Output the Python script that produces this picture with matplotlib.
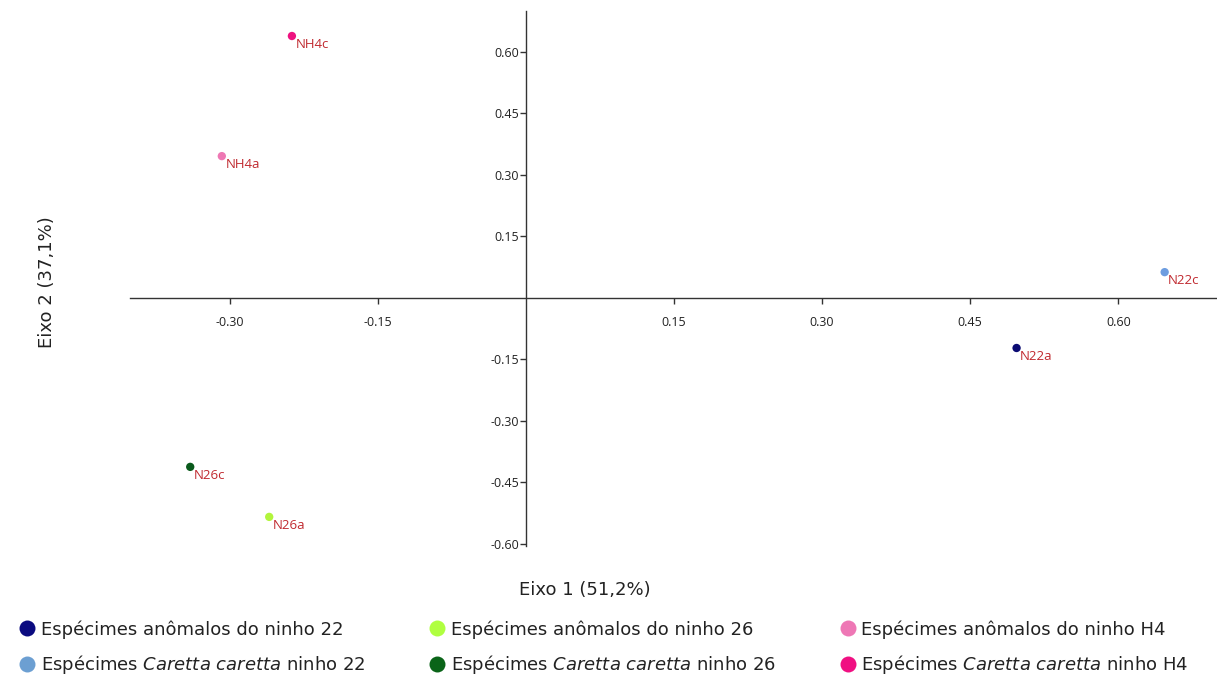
import matplotlib
matplotlib.use("Agg")
import matplotlib.pyplot as plt
from matplotlib.lines import Line2D

# PCA scores of each sample
samples = ['N22a', 'N22c', 'N26a', 'N26c', 'NH4a', 'NH4c']
eixo1 = [0.497, 0.647, -0.260, -0.340, -0.308, -0.237]
eixo2 = [-0.122, 0.063, -0.534, -0.412, 0.346, 0.639]
point_colors = ['#0b0b73', '#6d9de0', '#b2f53d', '#0a5a1c', '#ee78b4', '#ee1280']

legend_labels = [
    'Espécimes anômalos do ninho 22',
    r'Espécimes $\mathit{Caretta\ caretta}$ ninho 22',
    'Espécimes anômalos do ninho 26',
    r'Espécimes $\mathit{Caretta\ caretta}$ ninho 26',
    'Espécimes anômalos do ninho H4',
    r'Espécimes $\mathit{Caretta\ caretta}$ ninho H4',
]
legend_colors = ['#0b0b80', '#6c9fd2', '#b0ff40', '#0a6418', '#ee77b5', '#f01082']

xticks = [-0.30, -0.15, 0.15, 0.30, 0.45, 0.60]
yticks = [-0.60, -0.45, -0.30, -0.15, 0.15, 0.30, 0.45, 0.60]

plt.rcParams['mathtext.fontset'] = 'custom'
plt.rcParams['mathtext.it'] = 'DejaVu Sans:italic'
plt.rcParams['mathtext.rm'] = 'DejaVu Sans'

fig = plt.figure(figsize=(12.17, 6.77), dpi=100)
ax = fig.add_axes([130 / 1217, 131 / 677, 1086 / 1217, 535 / 677])

ax.scatter(eixo1, eixo2, s=36, c=point_colors, zorder=3, linewidths=0)
for name, x, y in zip(samples, eixo1, eixo2):
    ax.annotate(name, (x, y), xytext=(2.5, -6), textcoords='offset points',
                ha='left', va='center', color='#c0292f', fontsize=9.5,
                family='Open Sans', zorder=4)

ax.set_xlim(-0.401, 0.699)
ax.set_ylim(-0.605, 0.700)
for side in ['top', 'right']:
    ax.spines[side].set_visible(False)
ax.spines['left'].set_position(('data', 0))
ax.spines['bottom'].set_position(('data', 0))
for side in ['left', 'bottom']:
    ax.spines[side].set_linewidth(1.0)
    ax.spines[side].set_color('#333333')

ax.set_xticks(xticks)
ax.set_yticks(yticks)
ax.set_xticklabels([f'{v:.2f}' for v in xticks], family='Open Sans', fontsize=9)
ax.set_yticklabels([f'{v:.2f}' for v in yticks], family='Open Sans', fontsize=9)
ax.tick_params(axis='x', length=4, width=1, pad=9, color='#333333', labelcolor='#222222')
ax.tick_params(axis='y', length=4, width=1, pad=1, color='#333333', labelcolor='#222222')

fig.text(585 / 1217, 1 - 590 / 677, 'Eixo 1 (51,2%)', ha='center', va='center',
         family='DejaVu Sans', fontsize=13, color='#222222')
fig.text(47 / 1217, 1 - 282 / 677, 'Eixo 2 (37,1%)', ha='center', va='center',
         rotation=90, family='DejaVu Sans', fontsize=13, color='#222222')

handles = [Line2D([], [], linestyle='none', marker='o', markersize=11.5,
                  markerfacecolor=c, markeredgewidth=0) for c in legend_colors]
fig.legend(handles, legend_labels, ncol=3, loc='upper left',
           bbox_to_anchor=(10 / 1217, 1 - 611 / 677), frameon=False,
           prop={'family': 'DejaVu Sans', 'size': 13},
           handlelength=0.9, handletextpad=0.3, columnspacing=3.55,
           labelspacing=0.8, borderpad=0, labelcolor='#222222')

fig.savefig('out.png', dpi=100)
